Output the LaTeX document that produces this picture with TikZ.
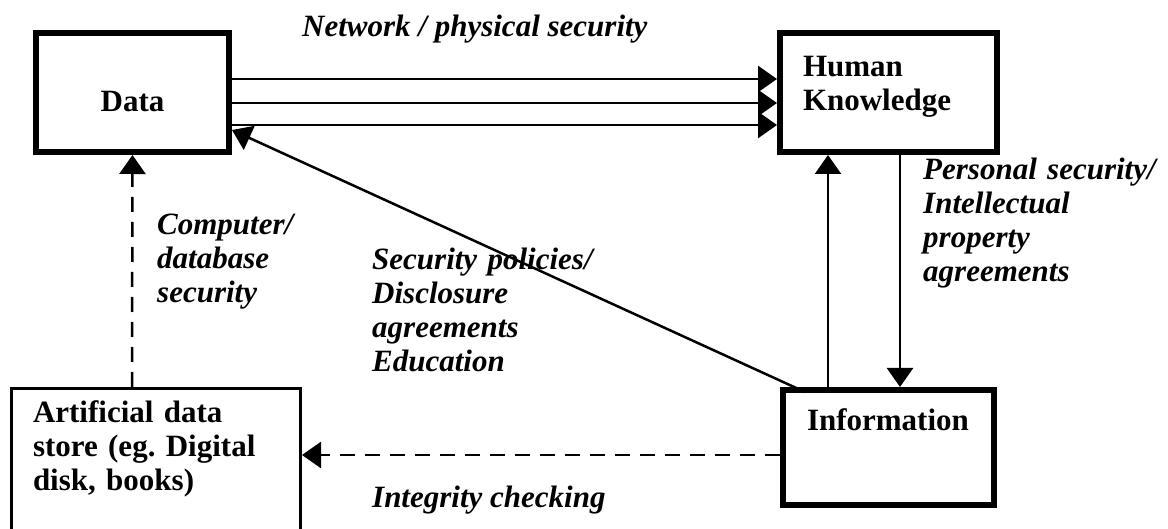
\documentclass[tikz,border=0pt]{standalone}
\usepackage{fontspec}
\setmainfont{Liberation Serif}
\usepackage{tikz}
\usetikzlibrary{arrows.meta}
\hyphenpenalty=10000
\exhyphenpenalty=10000
\frenchspacing

\begin{document}
\begin{tikzpicture}[
  x=1pt, y=-1pt,
  every node/.style={font=\fontsize{31}{34}\selectfont\bfseries},
  thickbox/.style={rectangle, draw, line width=6pt, inner ysep=0pt, align=left},
  thinbox/.style={rectangle, draw, line width=3pt, inner ysep=0pt, align=left},
  lbl/.style={font=\fontsize{31}{34}\selectfont\bfseries\itshape, anchor=base west,
    inner sep=0pt, align=left},
  arr/.style={-{Triangle[length=19pt,width=26pt]}, line width=2.5pt},
  dasharr/.style={arr, dash pattern=on 15pt off 10pt},
]

\useasboundingbox (0,0) rectangle (1168,529);

% === Boxes ===
\node[thickbox, anchor=north west, align=center, inner xsep=0pt, text width=193pt,
  text height=79pt, text depth=40pt] (data) at (33,30) {Data};
\node[thickbox, anchor=north west, inner xsep=23pt, text width=171pt,
  text height=44pt, text depth=75pt] (hk) at (777,30) {Human\\Knowledge};
\node[thickbox, anchor=north west, inner xsep=24pt, text width=163pt,
  text height=40pt, text depth=75pt] (info) at (780,387) {Information};
\node[thinbox, anchor=north west, inner xsep=21.5pt, text width=246pt,
  text height=33.5pt, text depth=121.5pt] (store) at (10,387)
  {Artificial data\\store (eg. Digital\\disk, books)};

% === Labels ===
\node[lbl] (netlbl) at (302,37) {Network / physical security};
\node[lbl, text width=160pt] (complbl) at (157,235) {Computer/\\database\\security};
\node[lbl, text width=250pt] (pollbl) at (372,270)
  {Security policies/\\Disclosure\\agreements\\Education};
\node[lbl, text width=245pt] (perslbl) at (923,180)
  {Personal security/\\Intellectual\\property\\agreements};
\node[lbl] (intlbl) at (372,507) {Integrity checking};

% === Connectors ===
\draw[arr] ([yshift=13.5pt]data.east) -- ([yshift=13.5pt]hk.west);
\draw[arr] ([yshift=-10.5pt]data.east) -- ([yshift=-10.5pt]hk.west);
\draw[arr] ([yshift=-32.5pt]data.east) -- ([yshift=-32.5pt]hk.west);

\draw[arr] ([xshift=-83.5pt,yshift=-5pt]info.north) -- ([yshift=-37.5pt]data.east);
\draw[arr] ([xshift=-60.5pt]info.north) -- ([xshift=-60.5pt]hk.south);
\draw[arr] ([xshift=11.5pt]hk.south) -- ([xshift=11.5pt]info.north);

\draw[dasharr] ([xshift=-24pt]store.north) -- (data.south);
\draw[dasharr] ([yshift=-7.5pt]info.west) -- ([yshift=11pt]store.east);

\end{tikzpicture}
\end{document}
